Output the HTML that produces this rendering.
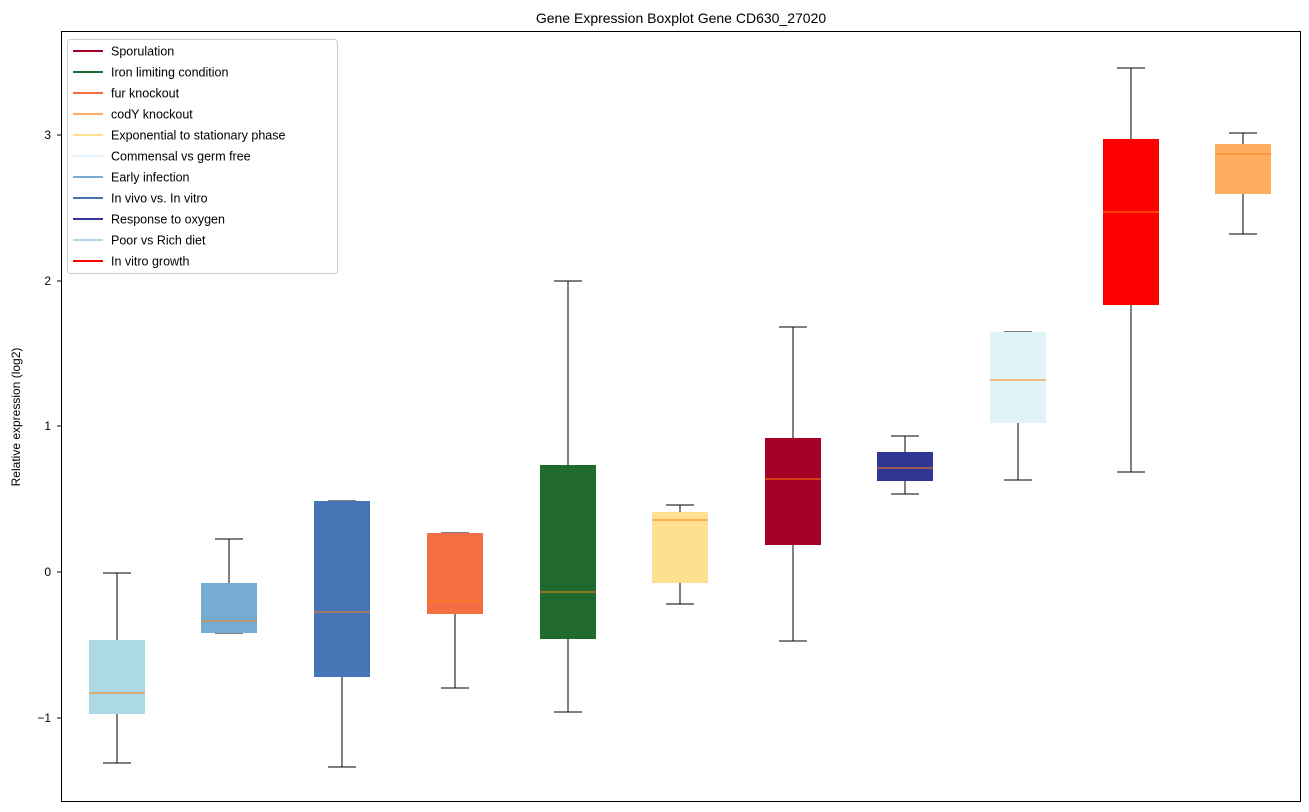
<!DOCTYPE html>
<html><head><style>body{margin:0;background:#fff}svg{display:block;font-family:"Liberation Sans","DejaVu Sans",sans-serif}</style></head>
<body>
<svg width="1309" height="812" viewBox="0 0 1309 812">
<text x="681" y="23" font-size="14" text-anchor="middle">Gene Expression Boxplot Gene CD630_27020</text>
<text transform="translate(20,417) rotate(-90)" font-size="12" text-anchor="middle">Relative expression (log2)</text>
<g font-size="12" text-anchor="end" stroke-width="1">
<line x1="57" x2="61" y1="135" y2="135" stroke="#000"/><text x="51" y="139">3</text>
<line x1="57" x2="61" y1="281" y2="281" stroke="#000"/><text x="51" y="285">2</text>
<line x1="57" x2="61" y1="426" y2="426" stroke="#000"/><text x="51" y="430">1</text>
<line x1="57" x2="61" y1="572" y2="572" stroke="#000"/><text x="51" y="576">0</text>
<line x1="57" x2="61" y1="718" y2="718" stroke="#000"/><text x="51" y="722">−1</text>
</g>
<g stroke="#000" stroke-width="1">
<path d="M117 573V640M117 714V763M103 573H131M103 763H131"/><rect x="89" y="640" width="56" height="74" fill="#add8e6" stroke="none"/><path d="M89 693H145" stroke="#ff7f0e"/>
<path d="M229 539V583M229 633V633M215 539H243M215 633H243"/><rect x="201" y="583" width="56" height="50" fill="#76acd2" stroke="none"/><path d="M201 621H257" stroke="#ff7f0e"/>
<path d="M342 501V501M342 677V767M328 501H356M328 767H356"/><rect x="314" y="501" width="56" height="176" fill="#4575b4" stroke="none"/><path d="M314 612H370" stroke="#ff7f0e"/>
<path d="M455 533V533M455 614V688M441 533H469M441 688H469"/><rect x="427" y="533" width="56" height="81" fill="#f46d43" stroke="none"/><path d="M427 601H483" stroke="#ff7f0e"/>
<path d="M568 281V465M568 639V712M554 281H582M554 712H582"/><rect x="540" y="465" width="56" height="174" fill="#216a2e" stroke="none"/><path d="M540 592H596" stroke="#ff7f0e"/>
<path d="M680 505V512M680 583V604M666 505H694M666 604H694"/><rect x="652" y="512" width="56" height="71" fill="#fee090" stroke="none"/><path d="M652 520H708" stroke="#ff7f0e"/>
<path d="M793 327V438M793 545V641M779 327H807M779 641H807"/><rect x="765" y="438" width="56" height="107" fill="#a50026" stroke="none"/><path d="M765 479H821" stroke="#ff7f0e"/>
<path d="M905 436V452M905 481V494M891 436H919M891 494H919"/><rect x="877" y="452" width="56" height="29" fill="#313695" stroke="none"/><path d="M877 468H933" stroke="#ff7f0e"/>
<path d="M1018 332V332M1018 423V480M1004 332H1032M1004 480H1032"/><rect x="990" y="332" width="56" height="91" fill="#e0f3f8" stroke="none"/><path d="M990 380H1046" stroke="#ff7f0e"/>
<path d="M1131 68V139M1131 305V472M1117 68H1145M1117 472H1145"/><rect x="1103" y="139" width="56" height="166" fill="#ff0000" stroke="none"/><path d="M1103 212H1159" stroke="#ff7f0e"/>
<path d="M1243 133V144M1243 194V234M1229 133H1257M1229 234H1257"/><rect x="1215" y="144" width="56" height="50" fill="#fdae61" stroke="none"/><path d="M1215 154H1271" stroke="#ff7f0e"/>
</g>
<rect x="61.5" y="31.5" width="1239" height="770" fill="none" stroke="#000"/>
<rect x="67.5" y="39.5" width="270" height="234" rx="3" fill="#fff" fill-opacity="0.8" stroke="#ccc"/>
<g font-size="12.5" stroke-width="2">
<line x1="73" x2="103" y1="51" y2="51" stroke="#a50026"/><text x="111" y="55.5">Sporulation</text>
<line x1="73" x2="103" y1="72" y2="72" stroke="#216a2e"/><text x="111" y="76.5">Iron limiting condition</text>
<line x1="73" x2="103" y1="93" y2="93" stroke="#f46d43"/><text x="111" y="97.5">fur knockout</text>
<line x1="73" x2="103" y1="114" y2="114" stroke="#fdae61"/><text x="111" y="118.5">codY knockout</text>
<line x1="73" x2="103" y1="135" y2="135" stroke="#fee090"/><text x="111" y="139.5">Exponential to stationary phase</text>
<line x1="73" x2="103" y1="156" y2="156" stroke="#e0f3f8"/><text x="111" y="160.5">Commensal vs germ free</text>
<line x1="73" x2="103" y1="177" y2="177" stroke="#76acd2"/><text x="111" y="181.5">Early infection</text>
<line x1="73" x2="103" y1="198" y2="198" stroke="#4575b4"/><text x="111" y="202.5">In vivo vs. In vitro</text>
<line x1="73" x2="103" y1="219" y2="219" stroke="#313695"/><text x="111" y="223.5">Response to oxygen</text>
<line x1="73" x2="103" y1="240" y2="240" stroke="#add8e6"/><text x="111" y="244.5">Poor vs Rich diet</text>
<line x1="73" x2="103" y1="261" y2="261" stroke="#ff0000"/><text x="111" y="265.5">In vitro growth</text>
</g>
</svg>
</body></html>
